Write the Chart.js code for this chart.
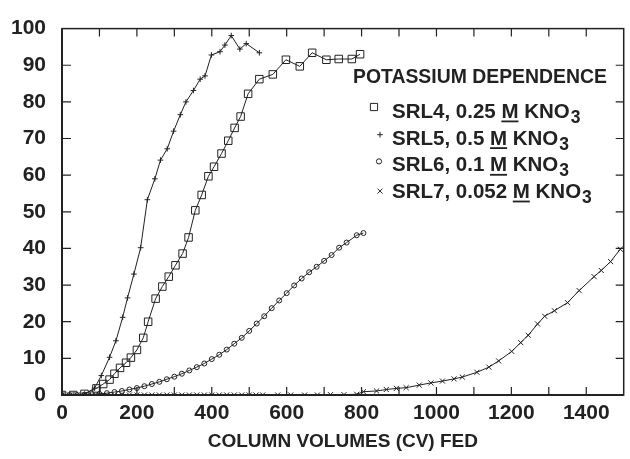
<!DOCTYPE html>
<html>
<head>
<meta charset="utf-8">
<script src="https://cdn.jsdelivr.net/npm/chart.js@4.4.1/dist/chart.umd.min.js"></script>
<style>
html, body { margin: 0; padding: 0; background: #fff; }
#wrap { position: relative; width: 630px; height: 459px; }
</style>
</head>
<body>
<div id="wrap"><canvas id="grafico"></canvas></div>
<script>
// valores
const xSRL4 = [0, 30, 60, 92, 110, 127, 140, 155, 171, 184, 200, 217, 230, 250, 268, 285, 303, 322, 338, 356, 373, 391, 406, 426, 444, 461, 477, 497, 527, 563, 598, 635, 668, 706, 739, 774, 796];
const ySRL4 = [0, 0, 0.3, 1.8, 3.0, 4.2, 5.8, 7.4, 8.8, 10.2, 12.3, 15.6, 20.0, 26.3, 29.6, 32.3, 35.4, 38.6, 43.0, 50.4, 54.6, 59.7, 62.3, 65.9, 69.4, 72.9, 76.0, 82.2, 86.2, 87.5, 91.5, 89.7, 93.4, 91.5, 91.7, 91.7, 93.0];

const xSRL5 = [0, 30, 60, 87, 105, 127, 144, 162, 175, 192, 210, 228, 248, 263, 281, 298, 316, 331, 351, 369, 382, 399, 422, 435, 452, 475, 492, 527];
const ySRL5 = [0, 0, 0.2, 1.9, 5.3, 10.3, 14.8, 21.2, 26.5, 33.0, 40.2, 53.3, 59.0, 64.1, 67.2, 72.0, 76.5, 80.0, 83.1, 86.2, 87.1, 92.8, 93.7, 95.5, 98.1, 94.4, 95.9, 93.4];

const xSRL6 = [0, 20, 40, 60, 80, 100, 120, 140, 160, 180, 200, 220, 240, 260, 280, 300, 320, 340, 360, 380, 400, 420, 440, 460, 480, 500, 520, 540, 560, 580, 600, 620, 640, 660, 680, 700, 720, 740, 760, 787, 805];
const ySRL6 = [0, 0, 0, 0.1, 0.2, 0.3, 0.5, 0.8, 1.1, 1.5, 1.9, 2.4, 3.0, 3.6, 4.3, 5.0, 5.8, 6.7, 7.6, 8.6, 9.8, 11.0, 12.4, 14.0, 15.6, 17.5, 19.5, 21.5, 23.7, 25.8, 27.8, 29.9, 31.8, 33.5, 35.0, 36.6, 38.2, 40.2, 41.6, 43.6, 44.2];

const xSRL7 = [0, 20, 40, 60, 80, 100, 120, 140, 160, 180, 200, 220, 240, 260, 280, 300, 320, 340, 360, 380, 400, 420, 440, 460, 480, 500, 518, 536, 576, 611, 648, 682, 717, 753, 787, 805, 840, 866, 893, 919, 954, 985, 1016, 1047, 1069, 1108, 1140, 1166, 1201, 1225, 1245, 1270, 1289, 1315, 1350, 1381, 1421, 1440, 1465, 1491];
const ySRL7 = [0, 0, 0, 0, 0, 0, 0, 0, 0, 0, 0, 0, 0, 0, 0, 0, 0, 0, 0, 0, 0, 0, 0, 0, 0, 0, 0, 0, 0, 0, 0, 0, 0.1, 0.1, 0.2, 0.9, 1.1, 1.5, 1.8, 2.0, 2.7, 3.3, 3.8, 4.4, 4.9, 6.2, 7.6, 9.3, 11.9, 14.3, 16.3, 19.4, 21.5, 23.0, 25.2, 28.5, 32.3, 34.0, 36.4, 39.8];

const nomes = ['SRL4', 'SRL5', 'SRL6', 'SRL7'];
const concentracoes = ['0.25', '0.5', '0.1', '0.052'];
const tituloLegenda = 'POTASSIUM DEPENDENCE';
const tituloX = 'COLUMN VOLUMES (CV) FED';
const rotulosX = [0, 200, 400, 600, 800, 1000, 1200, 1400];

const corTinta = '#222';
const fonte = '"Liberation Sans", Arial, Helvetica, sans-serif';

function pontos(xs, ys) {
    return xs.map((x, i) => ({ x: x, y: ys[i] }));
}

const estilos = [
    { pointStyle: 'rect', pointRadius: 5.3 },
    { pointStyle: 'cross', pointRadius: 2.8 },
    { pointStyle: 'circle', pointRadius: 2.5 },
    { pointStyle: 'crossRot', pointRadius: 3.6 }
];
const series = [[xSRL4, ySRL4], [xSRL5, ySRL5], [xSRL6, ySRL6], [xSRL7, ySRL7]];

const datasets = series.map((s, i) => ({
    label: nomes[i],
    data: pontos(s[0], s[1]),
    borderColor: corTinta,
    borderWidth: 1,
    backgroundColor: 'rgba(255,255,255,0)',
    pointBorderColor: corTinta,
    pointBackgroundColor: 'rgba(255,255,255,0)',
    pointBorderWidth: 1,
    pointStyle: estilos[i].pointStyle,
    pointRadius: estilos[i].pointRadius,
    tension: 0,
    fill: false
}));

function desenharMarcador(ctx, estilo, x, y) {
    ctx.beginPath();
    if (estilo === 'rect') {
        ctx.rect(x - 3.6, y - 3.6, 7.2, 7.2);
    } else if (estilo === 'cross') {
        ctx.moveTo(x - 2.8, y); ctx.lineTo(x + 2.8, y);
        ctx.moveTo(x, y - 2.8); ctx.lineTo(x, y + 2.8);
    } else if (estilo === 'circle') {
        ctx.arc(x, y, 2.6, 0, Math.PI * 2);
    } else {
        ctx.moveTo(x - 2.5, y - 2.5); ctx.lineTo(x + 2.5, y + 2.5);
        ctx.moveTo(x + 2.5, y - 2.5); ctx.lineTo(x - 2.5, y + 2.5);
    }
    ctx.stroke();
}

// moldura com marcas para dentro nos quatro lados
const moldura = {
    id: 'moldura',
    afterDraw(chart) {
        const ctx = chart.ctx;
        const a = chart.chartArea;
        const sx = chart.scales.x, sy = chart.scales.y;
        ctx.save();
        ctx.strokeStyle = corTinta;
        ctx.lineWidth = 1.5;
        ctx.strokeRect(a.left, a.top, a.right - a.left, a.bottom - a.top);
        ctx.lineWidth = 2;
        ctx.beginPath();
        ctx.moveTo(a.left, a.top); ctx.lineTo(a.left, a.bottom); ctx.lineTo(a.right, a.bottom);
        ctx.stroke();
        ctx.lineWidth = 1.2;
        ctx.beginPath();
        for (let v = 100; v < 1500; v += 100) {
            const px = sx.getPixelForValue(v);
            ctx.moveTo(px, a.bottom); ctx.lineTo(px, a.bottom - 8);
            ctx.moveTo(px, a.top); ctx.lineTo(px, a.top + 8);
        }
        for (let v = 10; v < 100; v += 10) {
            const py = sy.getPixelForValue(v);
            ctx.moveTo(a.left, py); ctx.lineTo(a.left + 9, py);
            ctx.moveTo(a.right, py); ctx.lineTo(a.right - 8, py);
        }
        ctx.stroke();
        ctx.restore();
    }
};

// legenda desenhada à mão por causa do M sublinhado e do índice 3
const legenda = {
    id: 'legenda',
    afterDraw(chart) {
        const ctx = chart.ctx;
        ctx.save();
        ctx.fillStyle = corTinta;
        ctx.strokeStyle = corTinta;
        ctx.lineWidth = 1;
        ctx.textBaseline = 'alphabetic';
        ctx.font = 'bold 19.4px ' + fonte;
        ctx.fillText(tituloLegenda, 353, 83);
        const marcX = [374, 380, 379, 380];
        const marcDy = [-11, -10, -10, -7];
        nomes.forEach((nome, i) => {
            const base = 118 + i * 26.7;
            desenharMarcador(ctx, estilos[i].pointStyle, marcX[i], base + marcDy[i]);
            let x = 392;
            ctx.font = 'bold 20.5px ' + fonte;
            const antes = nome + ', ' + concentracoes[i] + ' ';
            ctx.fillText(antes, x, base);
            x += ctx.measureText(antes).width;
            const wM = ctx.measureText('M').width;
            ctx.fillText('M', x, base);
            ctx.fillRect(x, base + 2.5, wM, 1.8);
            x += wM;
            ctx.fillText(' KNO', x, base);
            x += ctx.measureText(' KNO').width;
            ctx.font = 'bold 17.5px ' + fonte;
            ctx.fillText('3', x + 1, base + 5);
        });
        ctx.restore();
    }
};

const ctx = document.getElementById('grafico').getContext('2d');
window.grafico = new Chart(ctx, {
    type: 'line',
    data: { datasets: datasets },
    plugins: [moldura, legenda],
    options: {
        responsive: true,
        maintainAspectRatio: false,
        animation: false,
        devicePixelRatio: 1,
        layout: { padding: { top: 18, right: 1, left: 0, bottom: 0 } },
        plugins: {
            legend: { display: false },
            tooltip: { enabled: false }
        },
        scales: {
            x: {
                type: 'linear',
                min: 0,
                max: 1500,
                grid: { display: false, drawTicks: false },
                border: { display: false },
                afterBuildTicks: function(scale) {
                    scale.ticks = rotulosX.map(v => ({ value: v }));
                },
                ticks: {
                    padding: 6,
                    autoSkip: false,
                    color: corTinta,
                    font: { family: fonte, size: 21, weight: 'bold' },
                    maxRotation: 0,
                    callback: function(value) {
                        return String(value);
                    }
                },
                title: {
                    display: true,
                    text: tituloX,
                    color: corTinta,
                    font: { family: fonte, size: 19, weight: 'bold' },
                    padding: { top: 0, bottom: 6 }
                },
                afterFit: function(scale) { scale.height = 64; }
            },
            y: {
                min: 0,
                max: 100,
                grid: { display: false, drawTicks: false },
                border: { display: false },
                ticks: {
                    stepSize: 10,
                    padding: 16,
                    color: corTinta,
                    font: { family: fonte, size: 21, weight: 'bold' }
                },
                afterFit: function(scale) { scale.width = 62; }
            }
        }
    }
});
</script>
</body>
</html>
